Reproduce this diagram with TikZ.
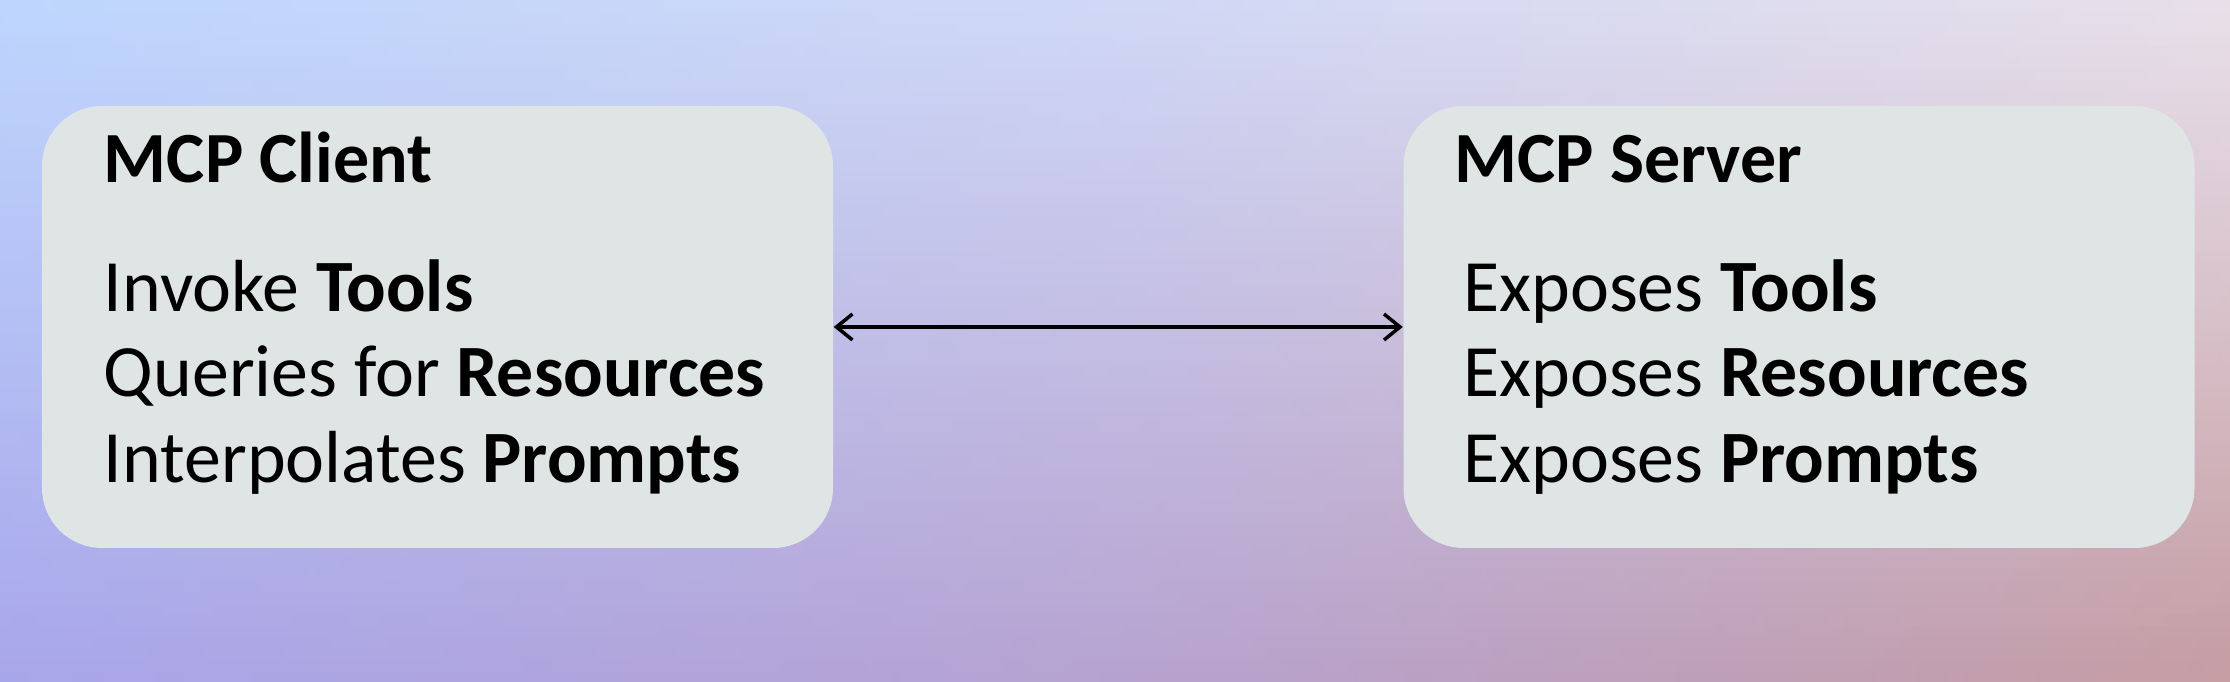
\documentclass[tikz,border=0pt]{standalone}
\usepackage{fontspec}
\setmainfont{Carlito}
\usepackage{xcolor}
\usetikzlibrary{arrows.meta, positioning, calc}
\definecolor{bgtl}{HTML}{BED6FD}
\definecolor{bgtm}{HTML}{D0D8F6}
\definecolor{bgtr}{HTML}{E8E0EA}
\definecolor{bgbl}{HTML}{A8A6EA}
\definecolor{bgbm}{HTML}{B6A2D0}
\definecolor{bgbr}{HTML}{C59CA2}
\definecolor{boxfill}{HTML}{DFE4E4}

\begin{document}
\begin{tikzpicture}[
    >={Straight Barb[length=1.6mm,width=2.6mm]},
    box/.style={
        rectangle, rounded corners=6mm,
        minimum width=7.91cm, minimum height=4.42cm,
        fill=boxfill, draw=none, inner sep=0pt
    },
    head/.style={anchor=base west, inner sep=0pt, font=\fontsize{20.5}{24}\selectfont\bfseries},
    item/.style={anchor=base west, inner sep=0pt, font=\fontsize{21}{25}\selectfont},
    arr/.style={<->, line width=1pt}
]

% Background: stacked strips, top colours blended into bottom ones
\useasboundingbox (0,0) rectangle (22.3,6.82);
\foreach \i in {0,...,59} {
    \pgfmathsetmacro\p{(\i+0.5)*100/60}
    \pgfmathsetmacro\ya{\i*6.82/60}
    \pgfmathsetmacro\yb{(\i+1)*6.82/60+0.01}
    \fill[left color=bgtl!\p!bgbl, right color=bgtr!\p!bgbr, middle color=bgtm!\p!bgbm]
        (0,\ya) rectangle (22.3,\yb);
}

% Boxes
\node[box] (client) at (4.375,3.55) {};
\node[box] (server) at (17.99,3.55) {};

% Client side
\node[head] (clienttitle) at ($(client.north west)+(0.62,-0.77)$) {MCP Client};
\node[item] (invoke)      at ($(client.north west)+(0.62,-2.06)$) {Invoke \textbf{Tools}};
\node[item] (queries)     at ($(client.north west)+(0.62,-2.91)$) {Queries for \textbf{Resources}};
\node[item] (interp)      at ($(client.north west)+(0.62,-3.77)$) {Interpolates \textbf{Prompts}};

% Server side
\node[head] (servertitle) at ($(server.north west)+(0.51,-0.77)$) {MCP Server};
\node[item] (extools)     at ($(server.north west)+(0.60,-2.06)$) {Exposes \textbf{Tools}};
\node[item] (exres)       at ($(server.north west)+(0.60,-2.91)$) {Exposes \textbf{Resources}};
\node[item] (exprompts)   at ($(server.north west)+(0.60,-3.77)$) {Exposes \textbf{Prompts}};

% Connection
\draw[arr] (client.east) -- (server.west);

\end{tikzpicture}
\end{document}
